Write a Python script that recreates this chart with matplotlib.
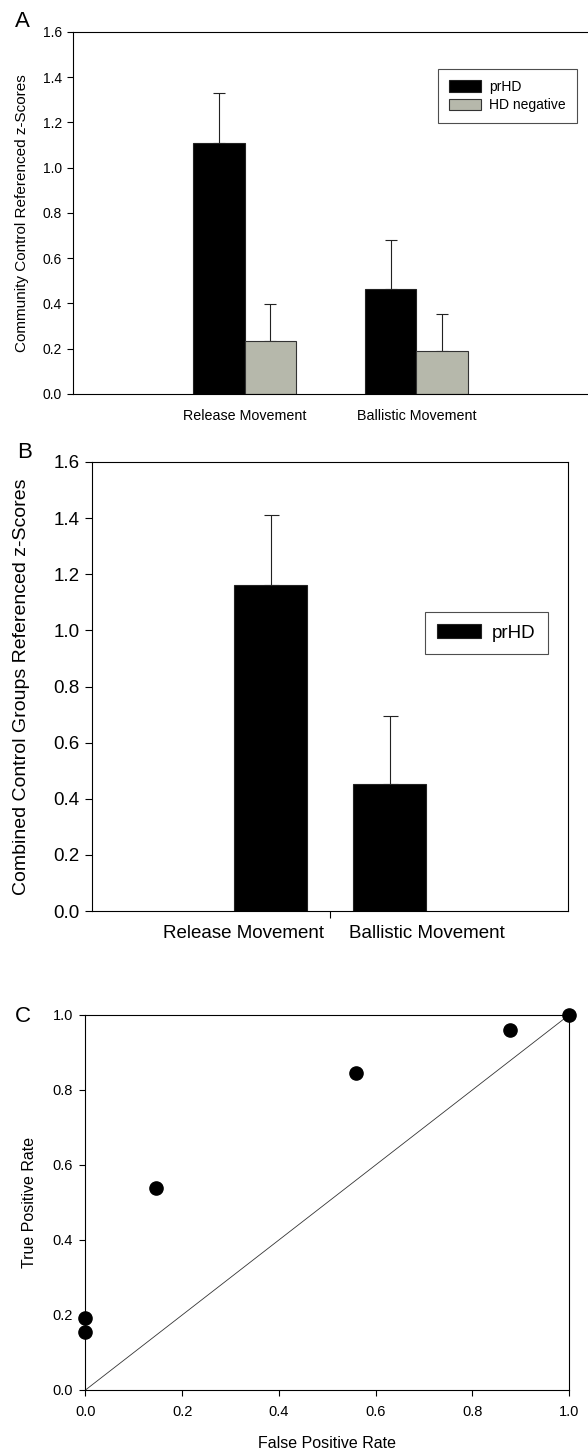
import numpy as np
import matplotlib
matplotlib.use("Agg")
import matplotlib.pyplot as plt

plt.rcParams['font.family'] = ['Liberation Sans', 'DejaVu Sans']

# panel A data
movements = ['Release Movement', 'Ballistic Movement']
a_prhd = [1.107, 0.466]
a_prhd_err = [0.222, 0.214]
a_hdneg = [0.234, 0.190]
a_hdneg_err = [0.163, 0.162]

# panel B data
b_prhd = [1.160, 0.453]
b_prhd_err = [0.250, 0.242]

# panel C data (ROC points)
fpr = [0.0, 0.0, 0.145, 0.560, 0.878, 1.0]
tpr = [0.193, 0.154, 0.538, 0.846, 0.961, 1.0]

fig = plt.figure(figsize=(5.88, 14.5), dpi=100)
lw = 0.8
yt = np.arange(0, 1.61, 0.2)

# ---------- A ----------
axA = fig.add_axes([0.1241, 0.7283, 0.8759, 0.2497])
x = np.array([1, 2])
w = 0.3
axA.bar(x - w / 2, a_prhd, w, color='black', edgecolor='#222222', linewidth=lw,
        label='prHD', zorder=2)
axA.bar(x + w / 2, a_hdneg, w, color='#b6b8ab', edgecolor='#333333', linewidth=lw,
        label='HD negative', zorder=2)
axA.errorbar(x - w / 2, a_prhd, yerr=[np.zeros(2), a_prhd_err], fmt='none',
             ecolor='#222222', elinewidth=lw, capsize=4, capthick=lw, zorder=1)
axA.errorbar(x + w / 2, a_hdneg, yerr=[np.zeros(2), a_hdneg_err], fmt='none',
             ecolor='#222222', elinewidth=lw, capsize=4, capthick=lw, zorder=1)
axA.set_xlim(0, 3)
axA.set_ylim(0, 1.6)
axA.set_yticks(yt)
axA.set_yticklabels(['%.1f' % v for v in yt], fontsize=10)
axA.set_xticks(x)
axA.set_xticklabels(movements, fontsize=10.3)
axA.tick_params(axis='x', length=0, pad=11)
axA.tick_params(axis='y', length=4, width=lw, direction='out', pad=4)
axA.spines['right'].set_visible(False)
for s in ['left', 'top', 'bottom']:
    axA.spines[s].set_linewidth(lw)
axA.set_ylabel('Community Control Referenced z-Scores', fontsize=11)
axA.yaxis.set_label_coords(-0.085, 0.5)
legA = axA.legend(loc='upper left', bbox_to_anchor=(0.708, 0.898), fontsize=10,
                  frameon=True, fancybox=False, edgecolor='#222222',
                  handlelength=2.3, handleheight=0.9, borderpad=0.8,
                  labelspacing=0.3, handletextpad=0.6, borderaxespad=0)
legA.get_frame().set_linewidth(lw)
fig.text(0.0255, 0.9855, 'A', fontsize=16, va='center', ha='left')

# ---------- B ----------
axB = fig.add_axes([0.1565, 0.3717, 0.8095, 0.3097])
wb = 0.61
axB.bar(x, b_prhd, wb, color='black', edgecolor='#222222', linewidth=lw,
        label='prHD', zorder=2)
axB.errorbar(x, b_prhd, yerr=[np.zeros(2), b_prhd_err], fmt='none',
             ecolor='#222222', elinewidth=lw, capsize=5.4, capthick=lw, zorder=1)
axB.set_xlim(-0.5, 3.5)
axB.set_ylim(0, 1.6)
axB.set_yticks(yt)
axB.set_yticklabels(['%.1f' % v for v in yt], fontsize=13.5)
axB.set_xticks([1.5])
axB.set_xticklabels([''])
axB.tick_params(axis='x', length=5, width=lw, direction='out')
axB.tick_params(axis='y', length=5, width=lw, direction='out', pad=4)
for s in axB.spines.values():
    s.set_linewidth(lw)
tb = axB.get_xaxis_transform()
axB.text(1.45, -0.03, movements[0], transform=tb, ha='right', va='top',
         fontsize=13.5)
axB.text(1.66, -0.03, movements[1], transform=tb, ha='left', va='top',
         fontsize=13.5)
axB.set_ylabel('Combined Control Groups Referenced z-Scores', fontsize=14)
axB.yaxis.set_label_coords(-0.130, 0.5)
legB = axB.legend(loc='upper left', bbox_to_anchor=(0.699, 0.666), fontsize=13.5,
                  frameon=True, fancybox=False, edgecolor='#222222',
                  handlelength=2.35, handleheight=0.75, borderpad=0.65,
                  handletextpad=0.6, borderaxespad=0)
legB.get_frame().set_linewidth(lw)
fig.text(0.029, 0.6876, 'B', fontsize=16, va='center', ha='left')

# ---------- C ----------
axC = fig.add_axes([0.1454, 0.0414, 0.8223, 0.2586])
axC.plot([0, 1], [0, 1], color='#333333', linewidth=0.6, zorder=1)
axC.plot(fpr, tpr, 'o', color='black', markersize=9.5, clip_on=False, zorder=3)
axC.set_xlim(0, 1)
axC.set_ylim(0, 1)
ticks = np.arange(0, 1.01, 0.2)
axC.set_xticks(ticks)
axC.set_yticks(ticks)
axC.set_xticklabels(['%.1f' % v for v in ticks], fontsize=10.5)
axC.set_yticklabels(['%.1f' % v for v in ticks], fontsize=10.5)
axC.tick_params(axis='x', length=4, width=lw, direction='out', pad=7)
axC.tick_params(axis='y', length=4, width=lw, direction='out', pad=5)
for s in axC.spines.values():
    s.set_linewidth(lw)
axC.set_xlabel('False Positive Rate', fontsize=11.5)
axC.xaxis.set_label_coords(0.5, -0.123)
axC.set_ylabel('True Positive Rate', fontsize=11.5)
axC.yaxis.set_label_coords(-0.100, 0.5)
fig.text(0.0255, 0.2993, 'C', fontsize=16, va='center', ha='left')

fig.savefig('out.png', dpi=100, facecolor='white')
